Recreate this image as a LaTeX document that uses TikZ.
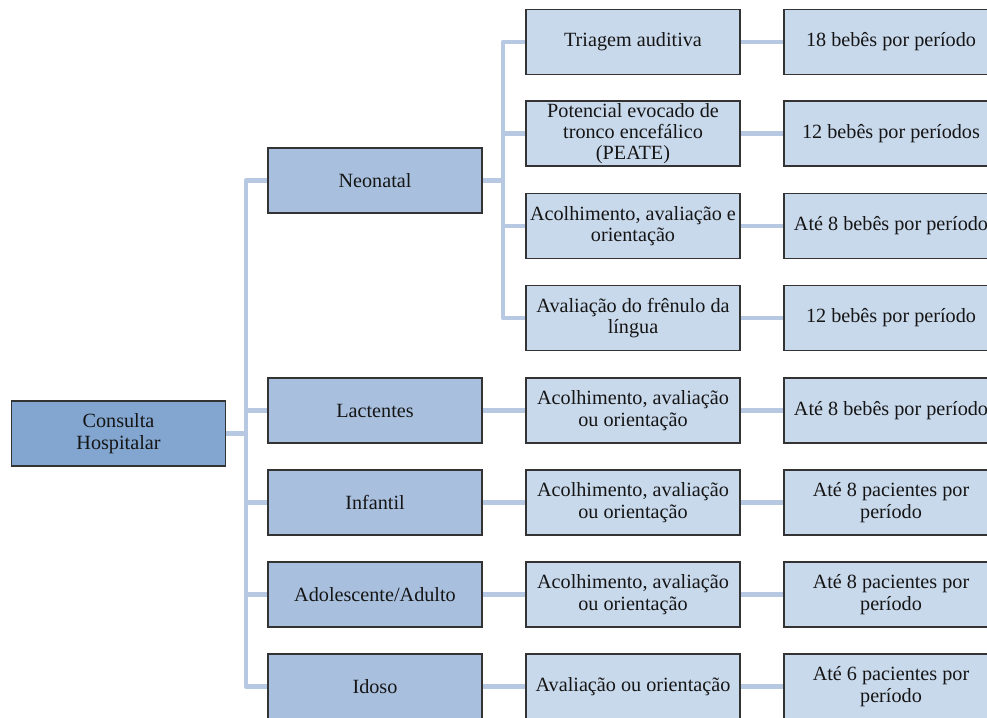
\documentclass[tikz,border=0pt]{standalone}
\usepackage{fontspec}
\setmainfont{Liberation Serif}
\usetikzlibrary{backgrounds}
\definecolor{rootfill}{HTML}{82A6D0}
\definecolor{lonefill}{HTML}{A8C0DE}
\definecolor{ltwofill}{HTML}{C9D9EC}
\definecolor{connc}{HTML}{B7C9E2}
\definecolor{bordc}{HTML}{333333}
\definecolor{txtc}{HTML}{151515}
\tikzset{
  box/.style={draw=bordc, line width=1.3pt, minimum width=214pt, minimum height=65pt,
    inner sep=0pt, align=center, text=txtc, font=\fontsize{20.2}{21.3}\selectfont},
  rootbox/.style={box, fill=rootfill},
  onebox/.style={box, fill=lonefill},
  twobox/.style={box, fill=ltwofill},
  conn/.style={draw=connc, line width=4.5pt, line join=round}
}
\begin{document}
\begin{tikzpicture}[x=1pt,y=-1pt]
\useasboundingbox (0,0) rectangle (987,717);
% root
\node[rootbox] (root) at (118.5,433.5) {Consulta\\Hospitalar};
% level 1
\node[onebox] (neo) at (375,180.5) {Neonatal};
\node[onebox] (lac) at (375,410.5) {Lactentes};
\node[onebox] (inf) at (375,502.5) {Infantil};
\node[onebox] (ado) at (375,594.5) {Adolescente/Adulto};
\node[onebox] (ido) at (375,686.5) {Idoso};
% level 2
\node[twobox] (tri) at (633,42) {Triagem auditiva};
\node[twobox] (pea) at (633,133.5) {Potencial evocado de\\tronco encefálico\\(PEATE)};
\node[twobox] (aco) at (633,226) {Acolhimento, avaliação e\\orientação};
\node[twobox] (fre) at (633,318) {Avaliação do frênulo da\\língua};
\node[twobox] (lacb) at (633,410.5) {Acolhimento, avaliação\\ou orientação};
\node[twobox] (infb) at (633,502.5) {Acolhimento, avaliação\\ou orientação};
\node[twobox] (adob) at (633,594.5) {Acolhimento, avaliação\\ou orientação};
\node[twobox] (idob) at (633,686.5) {Avaliação ou orientação};
% level 3
\node[twobox] (tric) at (891,42) {18 bebês por período};
\node[twobox] (peac) at (891,133.5) {12 bebês por períodos};
\node[twobox] (acoc) at (891,226) {Até 8 bebês por período};
\node[twobox] (frec) at (891,318) {12 bebês por período};
\node[twobox] (lacc) at (891,410.5) {Até 8 bebês por período};
\node[twobox] (infc) at (891,502.5) {Até 8 pacientes por\\período};
\node[twobox] (adoc) at (891,594.5) {Até 8 pacientes por\\período};
\node[twobox] (idoc) at (891,686.5) {Até 6 pacientes por\\período};
% connectors
\begin{scope}[on background layer]
\coordinate (s1) at (246,433.5);
\coordinate (s2) at (503,180.5);
\draw[conn] (root.east) -- (s1);
\foreach \c in {neo,lac,inf,ado,ido} {\draw[conn] (s1) |- (\c.west);}
\draw[conn] (neo.east) -- (s2);
\foreach \c in {tri,pea,aco,fre} {\draw[conn] (s2) |- (\c.west);}
\draw[conn] (lac.east) -- (lacb.west);
\draw[conn] (inf.east) -- (infb.west);
\draw[conn] (ado.east) -- (adob.west);
\draw[conn] (ido.east) -- (idob.west);
\draw[conn] (tri.east) -- (tric.west);
\draw[conn] (pea.east) -- (peac.west);
\draw[conn] (aco.east) -- (acoc.west);
\draw[conn] (fre.east) -- (frec.west);
\draw[conn] (lacb.east) -- (lacc.west);
\draw[conn] (infb.east) -- (infc.west);
\draw[conn] (adob.east) -- (adoc.west);
\draw[conn] (idob.east) -- (idoc.west);
\end{scope}
\end{tikzpicture}
\end{document}
